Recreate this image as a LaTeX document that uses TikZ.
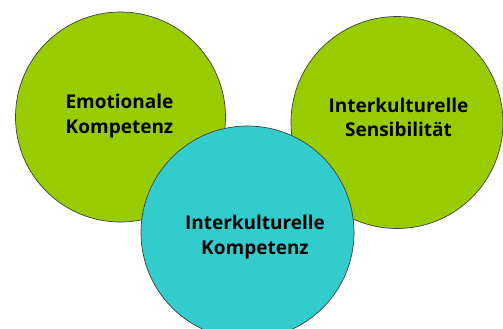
\documentclass[tikz,border=0pt]{standalone}
\usepackage{fontspec}
\setmainfont{Open Sans}
\definecolor{lgreen}{HTML}{99CC00}
\definecolor{lcyan}{HTML}{33CCCC}
\begin{document}
\begin{tikzpicture}[x=1pt,y=-1pt,
  bubble/.style={circle, draw=black!75, line width=0.7pt, inner sep=0pt},
  label/.style={font=\bfseries\fontsize{19}{24.5}\selectfont, align=center, text=black}]
\clip (0,0) rectangle (503,329);
\fill[white] (0,0) rectangle (503,329);
\node[bubble, fill=lgreen, minimum size=210pt] (emo) at (120.5,117) {};
\node[bubble, fill=lgreen, minimum size=212pt] (sens) at (397,122.5) {};
\node[bubble, fill=lcyan, minimum size=213pt] (komp) at (247.5,232.5) {};
\node[label] (temo) at (119.5,116) {Emotionale\\Kompetenz};
\node[label] (tsens) at (398.5,117.5) {Interkulturelle\\Sensibilität};
\node[label] (tkomp) at (255,237) {Interkulturelle\\Kompetenz};
\end{tikzpicture}
\end{document}
